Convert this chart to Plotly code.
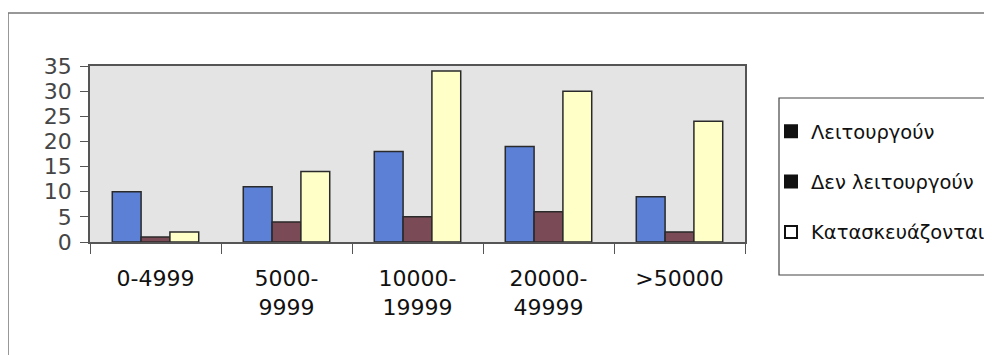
import plotly.graph_objects as go

categories = ["0-4999", "5000-<br>9999", "10000-<br>19999", "20000-<br>49999", ">50000"]
series_names = ["Λειτουργούν", "Δεν λειτουργούν", "Κατασκευάζονται"]
leitourgoun = [10, 11, 18, 19, 9]
den_leitourgoun = [1, 4, 5, 6, 2]
kataskevazontai = [2, 14, 34, 30, 24]
y_ticks = [0, 5, 10, 15, 20, 25, 30, 35]

bar_colors = ["#5b80d6", "#7a4b57", "#ffffc8"]
legend_colors = ["#111111", "#111111", "#ffffff"]

FONT = "DejaVu Sans"

fig = go.Figure()
for name, vals, col in zip(series_names, [leitourgoun, den_leitourgoun, kataskevazontai], bar_colors):
    fig.add_trace(go.Bar(
        x=categories, y=vals, name=name, showlegend=False,
        marker=dict(color=col, line=dict(color="#2a2a2a", width=1.5)),
    ))

for i, (name, col) in enumerate(zip(series_names, legend_colors)):
    fig.add_trace(go.Scatter(
        x=[None], y=[None], mode="markers", name=name, legendgroup=f"g{i}",
        marker=dict(symbol="square", size=14, color=col, line=dict(color="#111111", width=1.2)),
    ))

# the page body has an 8px margin: work in window pixels and subtract it
OFF = 8
W, H = 992 - OFF, 355 - OFF
L, T = 90 - OFF, 66 - OFF
R = W - (745 - OFF)
B = H - (242 - OFF)
pw, ph = W - L - R, H - T - B

def px_x(x):
    return (x - OFF - L) / pw

def px_y(y):
    return (H - B - (y - OFF)) / ph

fig.update_layout(
    width=W, height=H,
    margin=dict(l=L, r=R, t=T, b=B, autoexpand=False),
    paper_bgcolor="white",
    plot_bgcolor="#e4e4e4",
    barmode="group",
    bargap=0.34,
    bargroupgap=0,
    font=dict(family=FONT, size=20, color="#111111"),
    xaxis=dict(
        showline=True, linecolor="#555555", linewidth=1.5, mirror=True,
        ticks="outside", tickson="boundaries", ticklen=10, tickcolor="#555555",
        tickfont=dict(family=FONT, size=22, color="#111111"),
        ticklabelstandoff=16,
        showgrid=False, zeroline=False,
    ),
    yaxis=dict(
        range=[0, 35], tickvals=y_ticks,
        showline=True, linecolor="#555555", linewidth=1.5, mirror=True,
        ticks="outside", ticklen=8, tickcolor="#555555",
        tickfont=dict(family=FONT, size=22, color="#454545"),
        ticklabelstandoff=4,
        showgrid=False, zeroline=False,
    ),
    legend=dict(
        x=px_x(771), y=px_y(112), xanchor="left", yanchor="top",
        borderwidth=0, bgcolor="rgba(0,0,0,0)",
        font=dict(family=FONT, size=19.5, color="#111111"),
        tracegroupgap=22, itemsizing="constant",
    ),
    shapes=[
        dict(
            type="rect", xref="paper", yref="paper",
            x0=px_x(8), x1=px_x(1010), y0=px_y(380), y1=px_y(13),
            line=dict(color="#777777", width=1.5), fillcolor="rgba(0,0,0,0)", layer="below",
        ),
        dict(
            type="rect", xref="paper", yref="paper",
            x0=px_x(779), x1=px_x(1010), y0=px_y(275), y1=px_y(98),
            line=dict(color="#444444", width=1.2), fillcolor="white", layer="below",
        ),
    ],
)

fig.write_html("out.html")
